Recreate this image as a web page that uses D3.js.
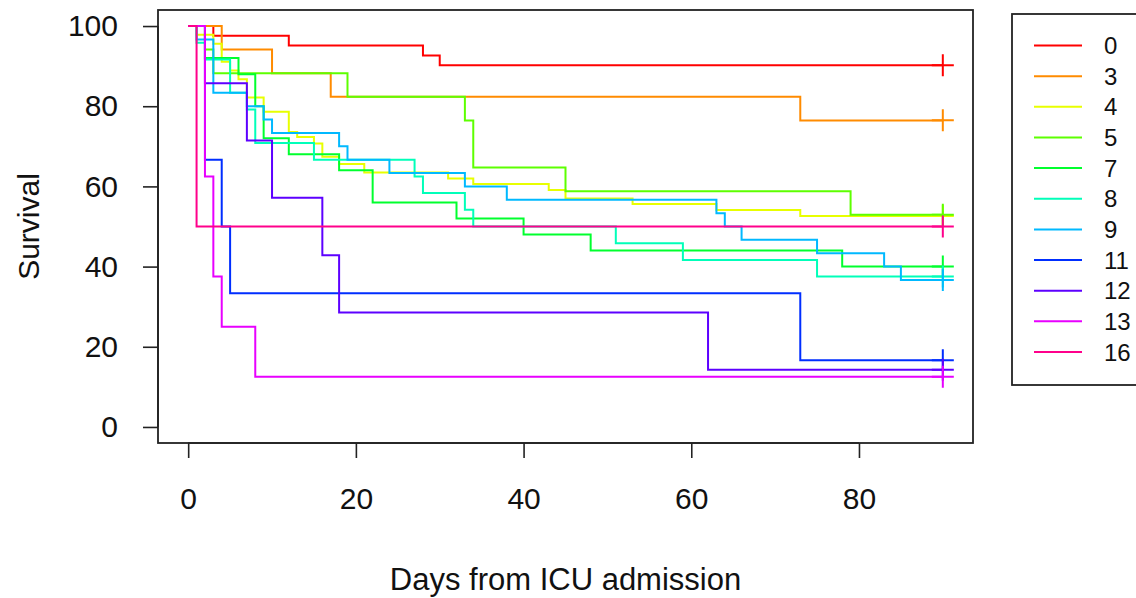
<!DOCTYPE html>
<html>
<head>
<meta charset="utf-8">
<script src="https://cdn.jsdelivr.net/npm/d3@7"></script>
<style>
  body { margin: 0; background: #fff; }
  svg { font-family: "Liberation Sans", Arial, sans-serif; }
</style>
</head>
<body>
<div id="chart"></div>
<script>
const width = 1136
const height = 598

// groups and colours (R rainbow(11))
const groups = ["0", "3", "4", "5", "7", "8", "9", "11", "12", "13", "16"]
const colors = ["#FF0000", "#FF8B00", "#E8FF00", "#5DFF00", "#00FF2E", "#00FFB9",
                "#00B9FF", "#002EFF", "#5D00FF", "#E800FF", "#FF008B"]

// event days and survival after each event, one list per group
const eventDays = [
    [3, 12, 28, 30],
    [4, 10, 17, 73],
    [1, 3, 4, 5, 6, 7, 9, 12, 13, 15, 16, 18, 21, 31, 34, 43, 45, 53, 63, 73],
    [2, 3, 19, 33, 34, 45, 79],
    [2, 6, 8, 9, 12, 18, 22, 32, 40, 48, 78],
    [1, 2, 5, 7, 8, 15, 27, 28, 33, 34, 51, 59, 75],
    [1, 3, 7, 9, 10, 18, 19, 24, 33, 38, 63, 64, 66, 75, 83, 85],
    [2, 4, 5, 73],
    [2, 7, 10, 16, 18, 62],
    [2, 3, 4, 8],
    [1]
]
const survival = [
    [97.56, 95.12, 92.68, 90.24],
    [94.12, 88.24, 82.35, 76.47],
    [97.8, 95.6, 91.1, 88.9, 86.7, 82.2, 78.6, 73.6, 72.3, 70.7, 67.4, 65.6, 63.5, 62.0, 60.6, 59.1, 57.0, 55.6, 54.1, 52.6],
    [94.12, 88.24, 82.35, 76.47, 64.71, 58.82, 52.94],
    [92, 88, 80, 72, 68, 64, 56, 52, 48, 44, 40],
    [95.83, 91.67, 83.33, 79.17, 70.83, 66.67, 62.5, 58.33, 54.17, 50, 45.83, 41.67, 37.5],
    [96.67, 83.33, 80, 76.67, 73.33, 70, 66.67, 63.33, 60, 56.67, 53.33, 50, 46.67, 43.33, 40, 36.67],
    [66.67, 50, 33.33, 16.67],
    [85.71, 71.43, 57.14, 42.86, 28.57, 14.29],
    [62.5, 37.5, 25, 12.5],
    [50]
]
const censorDay = 90
const xTicks = [0, 20, 40, 60, 80]
const yTicks = [0, 20, 40, 60, 80, 100]

const plot = { left: 158, right: 973, top: 10, bottom: 443 }

const svg = d3.select("div#chart").append("svg").attr("width", width).attr("height", height)

const x = d3.scaleLinear().domain([-3.6, 93.6]).range([plot.left, plot.right])
const y = d3.scaleLinear().domain([-4, 104]).range([plot.bottom, plot.top])

// axes
const xAxis = d3.axisBottom(x).tickValues(xTicks).tickSize(15).tickPadding(29).tickSizeOuter(0)
const yAxis = d3.axisLeft(y).tickValues(yTicks).tickSize(15).tickPadding(25).tickSizeOuter(0)

const xAxisGroup = svg.append("g").attr("transform", `translate(0, ${plot.bottom})`).call(xAxis)
const yAxisGroup = svg.append("g").attr("transform", `translate(${plot.left}, 0)`).call(yAxis)

xAxisGroup.select(".domain").attr("d", `M${x(0)},0H${x(80)}`)
yAxisGroup.select(".domain").attr("d", `M0,${y(0)}V${y(100)}`)
svg.selectAll(".tick line, .domain").attr("stroke", "#222").attr("stroke-width", 1.6)
xAxisGroup.selectAll("text").attr("font-size", 30).attr("fill", "#111").attr("dy", "0.72em")
yAxisGroup.selectAll("text").attr("font-size", 30).attr("fill", "#111")
svg.selectAll(".tick text").attr("font-family", "Liberation Sans, Arial, sans-serif")

// plot box
svg.append("rect")
    .attr("x", plot.left).attr("y", plot.top)
    .attr("width", plot.right - plot.left).attr("height", plot.bottom - plot.top)
    .attr("fill", "none").attr("stroke", "#222").attr("stroke-width", 1.8)

// curves
const line = d3.line().x(d => x(d[0])).y(d => y(d[1])).curve(d3.curveStepAfter)
const curveGroup = svg.append("g")

groups.forEach((g, i) => {
    const pts = [[0, 100]]
    eventDays[i].forEach((day, j) => pts.push([day, survival[i][j]]))
    pts.push([censorDay, survival[i][survival[i].length - 1]])
    curveGroup.append("path")
        .datum(pts)
        .attr("d", line)
        .attr("fill", "none")
        .attr("stroke", colors[i])
        .attr("stroke-width", 2)
})

// censor marks
groups.forEach((g, i) => {
    const last = survival[i][survival[i].length - 1]
    const cx = x(censorDay), cy = y(last)
    curveGroup.append("path")
        .attr("d", `M${cx - 11},${cy}H${cx + 11}M${cx},${cy - 11}V${cy + 11}`)
        .attr("stroke", colors[i])
        .attr("stroke-width", 2)
        .attr("fill", "none")
})

// axis titles
svg.append("text")
    .attr("x", (plot.left + plot.right) / 2).attr("y", 590)
    .attr("text-anchor", "middle").attr("font-size", 31).attr("fill", "#111")
    .text("Days from ICU admission")

svg.append("text")
    .attr("transform", `translate(39, ${(plot.top + plot.bottom) / 2}) rotate(-90)`)
    .attr("text-anchor", "middle").attr("font-size", 30).attr("fill", "#111")
    .text("Survival")

// legend
const legend = svg.append("g")
legend.append("rect")
    .attr("x", 1012).attr("y", 14).attr("width", 140).attr("height", 371)
    .attr("fill", "#fff").attr("stroke", "#222").attr("stroke-width", 1.8)

const legendY = d3.scalePoint().domain(groups).range([45.5, 352])
groups.forEach((g, i) => {
    legend.append("line")
        .attr("x1", 1034).attr("x2", 1082)
        .attr("y1", legendY(g)).attr("y2", legendY(g))
        .attr("stroke", colors[i]).attr("stroke-width", 2)
    legend.append("text")
        .attr("x", 1104).attr("y", legendY(g)).attr("dy", "0.36em")
        .attr("font-size", 24).attr("fill", "#111")
        .text(g)
})
</script>
</body>
</html>
